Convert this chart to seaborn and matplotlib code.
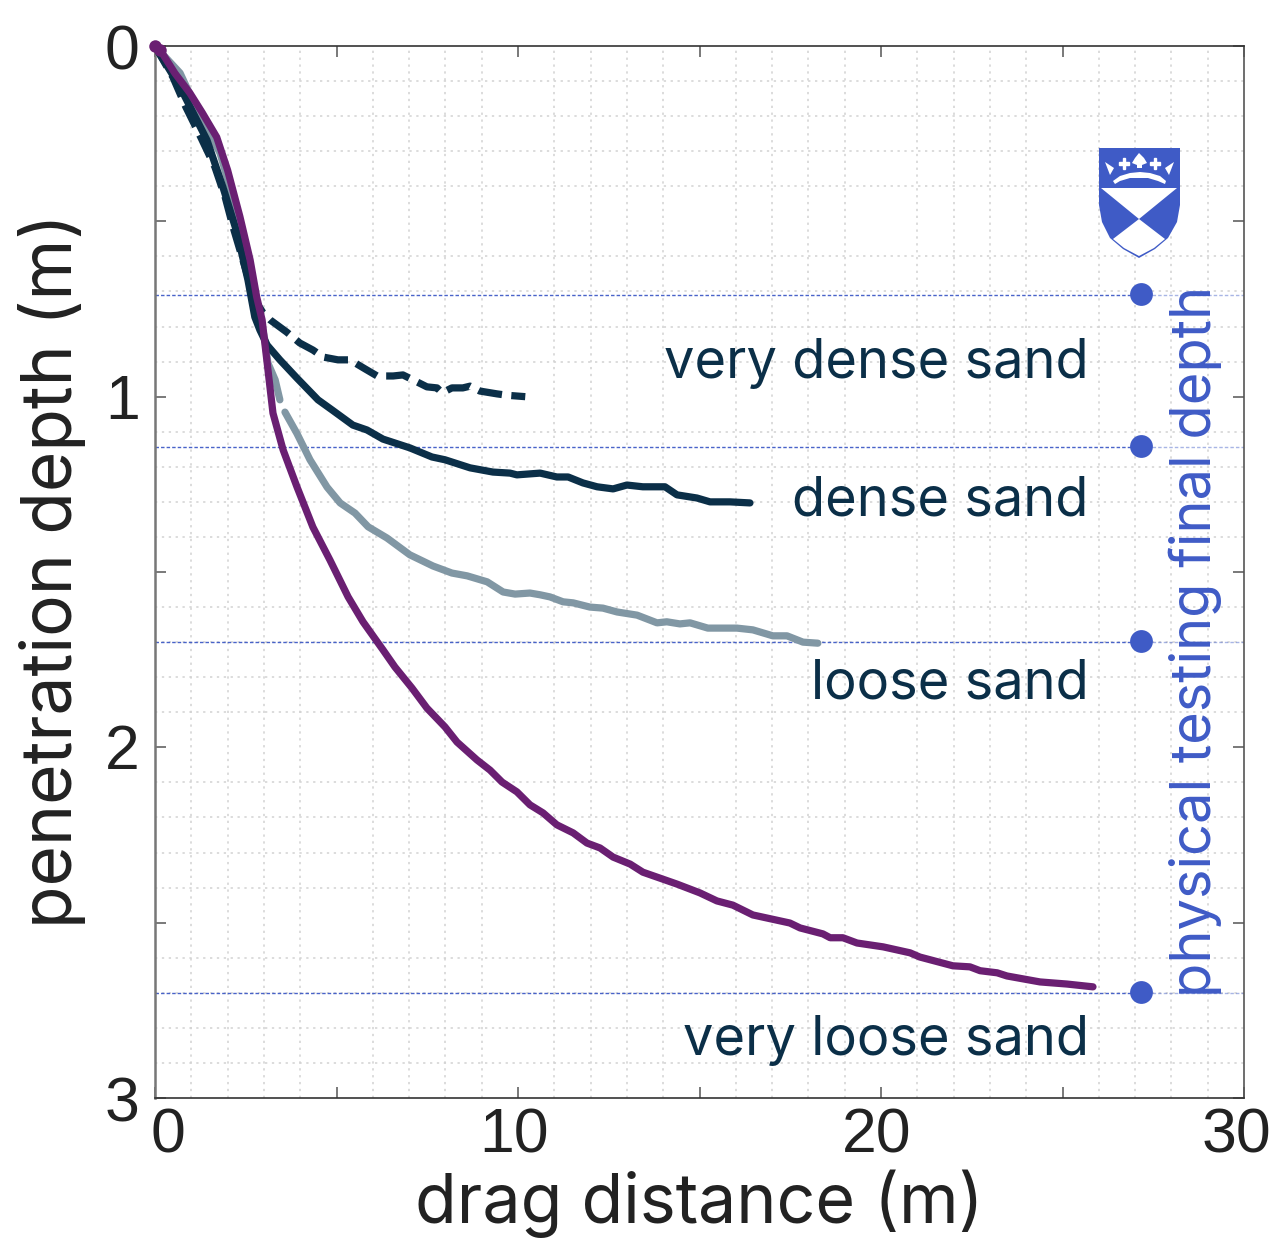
import matplotlib
matplotlib.use("Agg")
import matplotlib.pyplot as plt
from matplotlib.patches import Polygon, Rectangle
from matplotlib.transforms import Affine2D, ScaledTranslation
import numpy as np
import seaborn as sns

very_dense_x = [0, 0.49, 0.85, 1.26, 1.65, 1.93, 2.15, 2.42, 2.75, 2.97, 3.17, 3.63, 3.99, 4.35, 4.63, 5.04, 5.37, 5.79, 6.12, 6.56, 6.83, 7.22, 7.49, 7.77, 7.91, 8.18, 8.48, 8.68, 8.95, 9.42, 9.7, 10.2]
very_dense_y = [0, 0.088, 0.174, 0.26, 0.345, 0.43, 0.516, 0.61, 0.724, 0.76, 0.781, 0.816, 0.847, 0.867, 0.887, 0.895, 0.895, 0.921, 0.941, 0.941, 0.938, 0.958, 0.972, 0.975, 0.989, 0.975, 0.975, 0.970, 0.984, 0.992, 0.996, 1.0]
dense_x = [0, 0.69, 1.43, 1.87, 2.26, 2.56, 2.75, 2.89, 3.09, 3.44, 3.91, 4.49, 4.88, 5.45, 5.84, 6.28, 7.02, 7.63, 7.99, 8.68, 9.31, 9.78, 9.97, 10.61, 11.07, 11.38, 11.79, 12.18, 12.62, 13.0, 13.44, 14.05, 14.38, 14.93, 15.29, 15.84, 16.39]
dense_y = [0, 0.117, 0.268, 0.402, 0.533, 0.667, 0.773, 0.81, 0.853, 0.895, 0.947, 1.009, 1.038, 1.081, 1.095, 1.121, 1.146, 1.172, 1.180, 1.203, 1.215, 1.218, 1.223, 1.218, 1.229, 1.229, 1.246, 1.257, 1.263, 1.252, 1.257, 1.257, 1.280, 1.289, 1.300, 1.300, 1.303]
loose_head_x = [0, 0.69, 1.16, 1.79, 2.34, 2.75, 3.03, 3.11, 3.31, 3.44]
loose_head_y = [0, 0.077, 0.182, 0.305, 0.50, 0.70, 0.84, 0.904, 0.952, 1.009]
loose_x = [3.58, 3.91, 4.27, 4.74, 5.10, 5.51, 5.87, 6.39, 7.02, 7.66, 8.18, 8.60, 9.15, 9.59, 9.92, 10.33, 10.61, 10.88, 11.24, 11.52, 11.98, 12.34, 12.73, 13.28, 13.83, 14.10, 14.46, 14.74, 15.23, 16.03, 16.47, 17.02, 17.41, 17.85, 18.26]
loose_y = [1.044, 1.105, 1.180, 1.258, 1.303, 1.332, 1.371, 1.403, 1.451, 1.483, 1.503, 1.511, 1.528, 1.557, 1.563, 1.560, 1.565, 1.571, 1.585, 1.588, 1.600, 1.603, 1.614, 1.623, 1.645, 1.642, 1.648, 1.645, 1.660, 1.660, 1.665, 1.682, 1.682, 1.700, 1.703]
very_loose_x = [0, 0.14, 0.55, 0.96, 1.3, 1.7, 2.0, 2.34, 2.62, 2.8, 2.95, 3.09, 3.25, 3.53, 3.91, 4.35, 4.82, 5.32, 5.73, 6.28, 6.61, 7.08, 7.49, 7.99, 8.32, 8.87, 9.23, 9.56, 9.97, 10.33, 10.69, 11.07, 11.52, 11.90, 12.26, 12.62, 13.09, 13.44, 13.91, 14.38, 15.01, 15.48, 15.92, 16.47, 17.49, 17.77, 18.4, 18.6, 18.95, 19.34, 20.06, 20.8, 21.07, 21.98, 22.45, 22.73, 23.2, 23.47, 24.38, 25.12, 25.84]
very_loose_y = [0, 0.011, 0.078, 0.134, 0.19, 0.26, 0.354, 0.487, 0.61, 0.715, 0.781, 0.904, 1.047, 1.152, 1.257, 1.372, 1.466, 1.571, 1.642, 1.722, 1.771, 1.831, 1.888, 1.942, 1.985, 2.036, 2.065, 2.099, 2.127, 2.164, 2.187, 2.221, 2.244, 2.273, 2.287, 2.313, 2.333, 2.356, 2.373, 2.390, 2.415, 2.438, 2.450, 2.478, 2.501, 2.515, 2.532, 2.543, 2.543, 2.558, 2.569, 2.586, 2.598, 2.623, 2.626, 2.637, 2.643, 2.652, 2.669, 2.675, 2.683]

final_depths = [0.71, 1.143, 1.70, 2.70]
final_marker_x = [27.16, 27.16, 27.16, 27.16]
final_marker_y = [0.708, 1.14, 1.697, 2.697]
labels = ["very dense sand", "dense sand", "loose sand", "very loose sand"]
label_y = [0.948, 1.34, 1.86, 2.878]

NAVY, GREY, PURPLE, BLUE, INK = "#0B2F48", "#8197A4", "#6A1F72", "#3F5BC6", "#222222"
W, H = 1272, 1239

sns.set_theme(style="white")
fig = plt.figure(figsize=(W / 100, H / 100), dpi=100, facecolor="white")
ax = fig.add_axes([155 / W, 1 - 1098 / H, (1244 - 155) / W, (1098 - 46) / H])

ax.set_xticks(np.arange(0, 31, 1), minor=True)
ax.set_yticks(np.arange(0, 3.01, 0.1), minor=True)
ax.grid(which="minor", color="#d2d2d2", lw=1.1, ls=(0, (1.5, 3)))
ax.set_axisbelow(True)

for fd, mx in zip(final_depths, final_marker_x):
    ax.hlines(fd, 0, mx, color=BLUE, lw=1.0, ls=(0, (2.5, 1.5)), alpha=0.95, zorder=1.5)
    ax.hlines(fd, mx, 30, color=BLUE, lw=1.0, ls=(0, (2.5, 1.5)), alpha=0.45, zorder=1.5)

LW = 5.2
common = dict(ax=ax, estimator=None, sort=False)
sns.lineplot(x=loose_head_x, y=loose_head_y, color=GREY, linewidth=LW, zorder=3, **common)
sns.lineplot(x=loose_x, y=loose_y, color=GREY, linewidth=LW, zorder=3, **common)
sns.lineplot(x=very_dense_x, y=very_dense_y, color=NAVY, linewidth=LW, zorder=3.1, linestyle=(0, (3.3, 1.3)), **common)
sns.lineplot(x=dense_x, y=dense_y, color=NAVY, linewidth=LW, zorder=3.2, **common)
sns.lineplot(x=very_loose_x, y=very_loose_y, color=PURPLE, linewidth=LW, zorder=3.3, **common)
ax.plot(very_loose_x[:2], very_loose_y[:2], "o", color=PURPLE, ms=9, clip_on=False, zorder=3.4, mew=0)
sns.scatterplot(x=final_marker_x, y=final_marker_y, color=BLUE, s=270, linewidth=0, ax=ax, zorder=4)

ax.set_xlim(0, 30)
ax.set_ylim(3, 0)
ax.set_xticks(np.arange(0, 31, 5), ["0", "", "10", "", "20", "", "30"])
ax.set_yticks(np.arange(0, 3.01, 0.5), ["0", "", "1", "", "2", "", "3"])
ax.tick_params(axis="both", which="major", direction="in", length=8, width=1.1, color="#555555",
               top=True, right=True, bottom=True, left=True, labelcolor=INK, labelsize=45)
ax.tick_params(axis="both", which="minor", length=0)
ax.tick_params(axis="x", pad=6)
ax.tick_params(axis="y", pad=11)
for lab in ax.get_xticklabels() + ax.get_yticklabels():
    lab.set_fontfamily("Liberation Sans")
for lab, dx in zip(ax.get_xticklabels(), [13, 0, -4, 0, -4, 0, -8]):
    lab.set_transform(lab.get_transform() + ScaledTranslation(dx / 100, 0, fig.dpi_scale_trans))
for lab, dy in zip(ax.get_yticklabels(), [-1, 0, 1, 0, 1, 0, 0]):
    lab.set_transform(lab.get_transform() + ScaledTranslation(0, dy / 100, fig.dpi_scale_trans))

for side, sp in ax.spines.items():
    sp.set_visible(True)
    sp.set_color("#333333")
    sp.set_linewidth(1.2)
ax.spines["left"].set_color("#777777")
ax.spines["left"].set_linewidth(1.8)
ax.spines["right"].set_color("#555555")

TXT = "Inter"
ax.set_xlabel("")
ax.set_ylabel("")
fig.text(699 / W, 1 - 1204 / H, "drag distance (m)", fontsize=49, family=TXT, color=INK, ha="center", va="center")
fig.text(52 / W, 1 - 571 / H, "penetration depth (m)", fontsize=50, family=TXT, color=INK, ha="center", va="center", rotation=90)
fig.text(1195 / W, 1 - 641 / H, "physical testing final depth", fontsize=40.3, family=TXT, color=BLUE, ha="center", va="center", rotation=90)
for t, y in zip(labels, label_y):
    ax.text(25.72, y, t, fontsize=39, family=TXT, color=NAVY, ha="right", va="baseline")

# University crest, drawn in pixel coordinates
px = Affine2D().scale(1 / W, -1 / H).translate(0, 1) + fig.transFigure
def patch(pts, fc, ec="none", lw=0, z=6):
    fig.add_artist(Polygon(pts, closed=True, fc=fc, ec=ec, lw=lw, transform=px, zorder=z))
shield = [(1099, 148), (1180, 148), (1180, 205), (1177, 222), (1168, 238), (1155, 249), (1139, 258),
          (1123, 249), (1110, 238), (1102, 222), (1099, 205)]
patch(shield, BLUE)
patch([(1101, 188), (1177, 188), (1139, 219)], "white")
patch([(1139, 219), (1165, 239), (1154, 248), (1139, 256), (1124, 248), (1113, 239)], "white")
patch([(1113, 181), (1120, 176), (1130, 173), (1140, 172), (1150, 173), (1160, 176), (1166, 181),
      (1165, 184), (1158, 181), (1148, 178), (1140, 178), (1130, 178), (1120, 181), (1115, 184)], "white")
for cx in (1124, 1155):
    fig.add_artist(Rectangle((cx - 5, 162), 10, 2.8, fc="white", transform=px, zorder=6))
    fig.add_artist(Rectangle((cx - 1.4, 158), 2.8, 11, fc="white", transform=px, zorder=6))
patch([(1135, 158), (1139, 153), (1144, 158), (1147, 163), (1142, 165), (1142, 168), (1137, 168), (1137, 165), (1132, 163)], "white")
patch([(1105, 162), (1114, 168), (1110, 175)], "white")
patch([(1174, 162), (1165, 168), (1169, 175)], "white")

fig.savefig("out.png", dpi=100, facecolor="white")
